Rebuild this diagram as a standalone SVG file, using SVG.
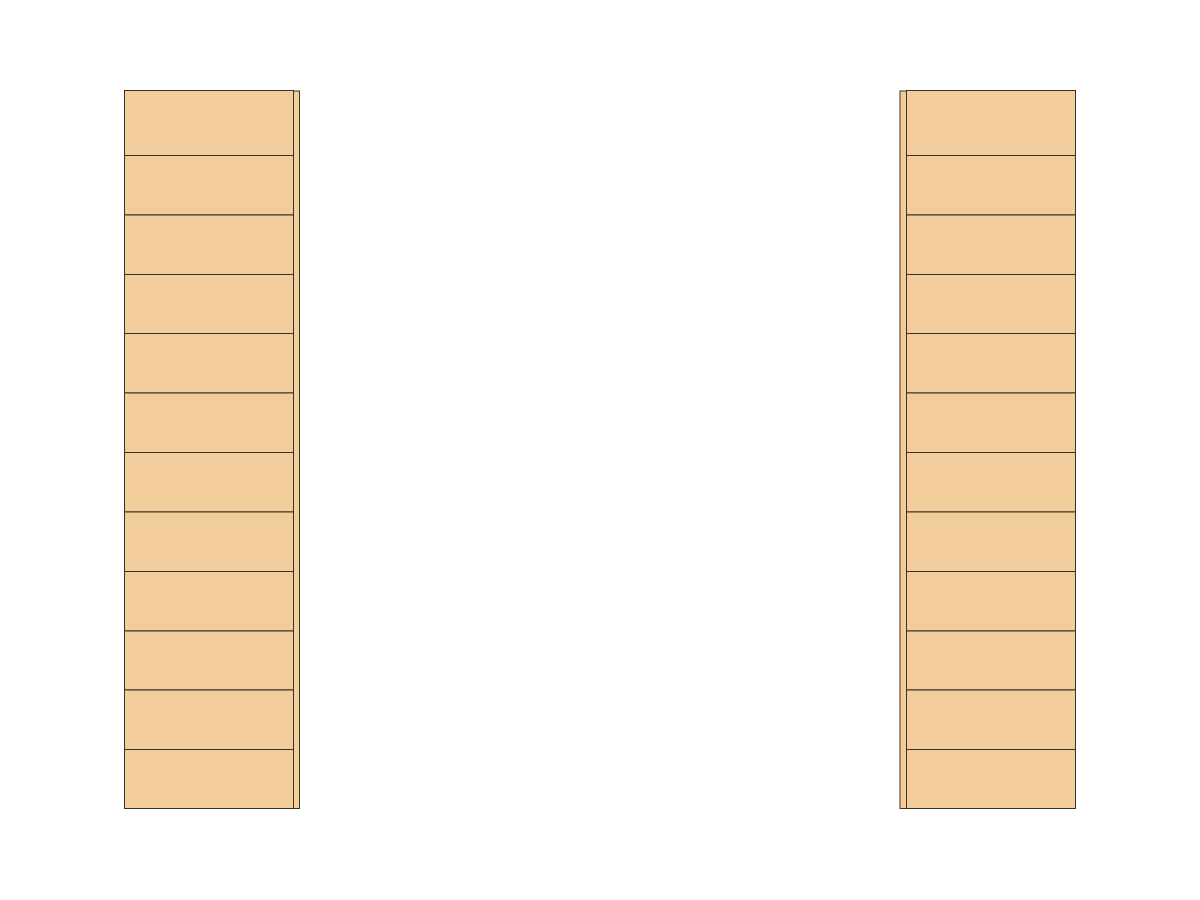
<svg xmlns="http://www.w3.org/2000/svg" width="1200" height="900" viewBox="0 0 1200 900">
<style>
.b{fill:#f2cc9a;stroke:#3d3324;stroke-width:1}
</style>
<rect width="1200" height="900" fill="#fff"/>
<g id="left">
<rect class="b" x="293.5" y="91" width="6" height="717.5"/>
<rect class="b" x="124.5" y="90.5" width="169" height="65"/>
<rect class="b" x="124.5" y="155.5" width="169" height="59.5"/>
<rect class="b" x="124.5" y="215" width="169" height="59.5"/>
<rect class="b" x="124.5" y="274.5" width="169" height="59"/>
<rect class="b" x="124.5" y="333.5" width="169" height="59.5"/>
<rect class="b" x="124.5" y="393" width="169" height="59.5"/>
<rect class="b" x="124.5" y="452.5" width="169" height="59.5"/>
<rect class="b" x="124.5" y="512" width="169" height="59.5"/>
<rect class="b" x="124.5" y="571.5" width="169" height="59.5"/>
<rect class="b" x="124.5" y="631" width="169" height="59"/>
<rect class="b" x="124.5" y="690" width="169" height="59.5"/>
<rect class="b" x="124.5" y="749.5" width="169" height="59"/>
</g>
<g id="right">
<rect class="b" x="900" y="91" width="7" height="717.5"/>
<rect class="b" x="906.5" y="90.5" width="169" height="65"/>
<rect class="b" x="906.5" y="155.5" width="169" height="59.5"/>
<rect class="b" x="906.5" y="215" width="169" height="59.5"/>
<rect class="b" x="906.5" y="274.5" width="169" height="59"/>
<rect class="b" x="906.5" y="333.5" width="169" height="59.5"/>
<rect class="b" x="906.5" y="393" width="169" height="59.5"/>
<rect class="b" x="906.5" y="452.5" width="169" height="59.5"/>
<rect class="b" x="906.5" y="512" width="169" height="59.5"/>
<rect class="b" x="906.5" y="571.5" width="169" height="59.5"/>
<rect class="b" x="906.5" y="631" width="169" height="59"/>
<rect class="b" x="906.5" y="690" width="169" height="59.5"/>
<rect class="b" x="906.5" y="749.5" width="169" height="59"/>
</g>
<g id="connectors"></g>
</svg>
